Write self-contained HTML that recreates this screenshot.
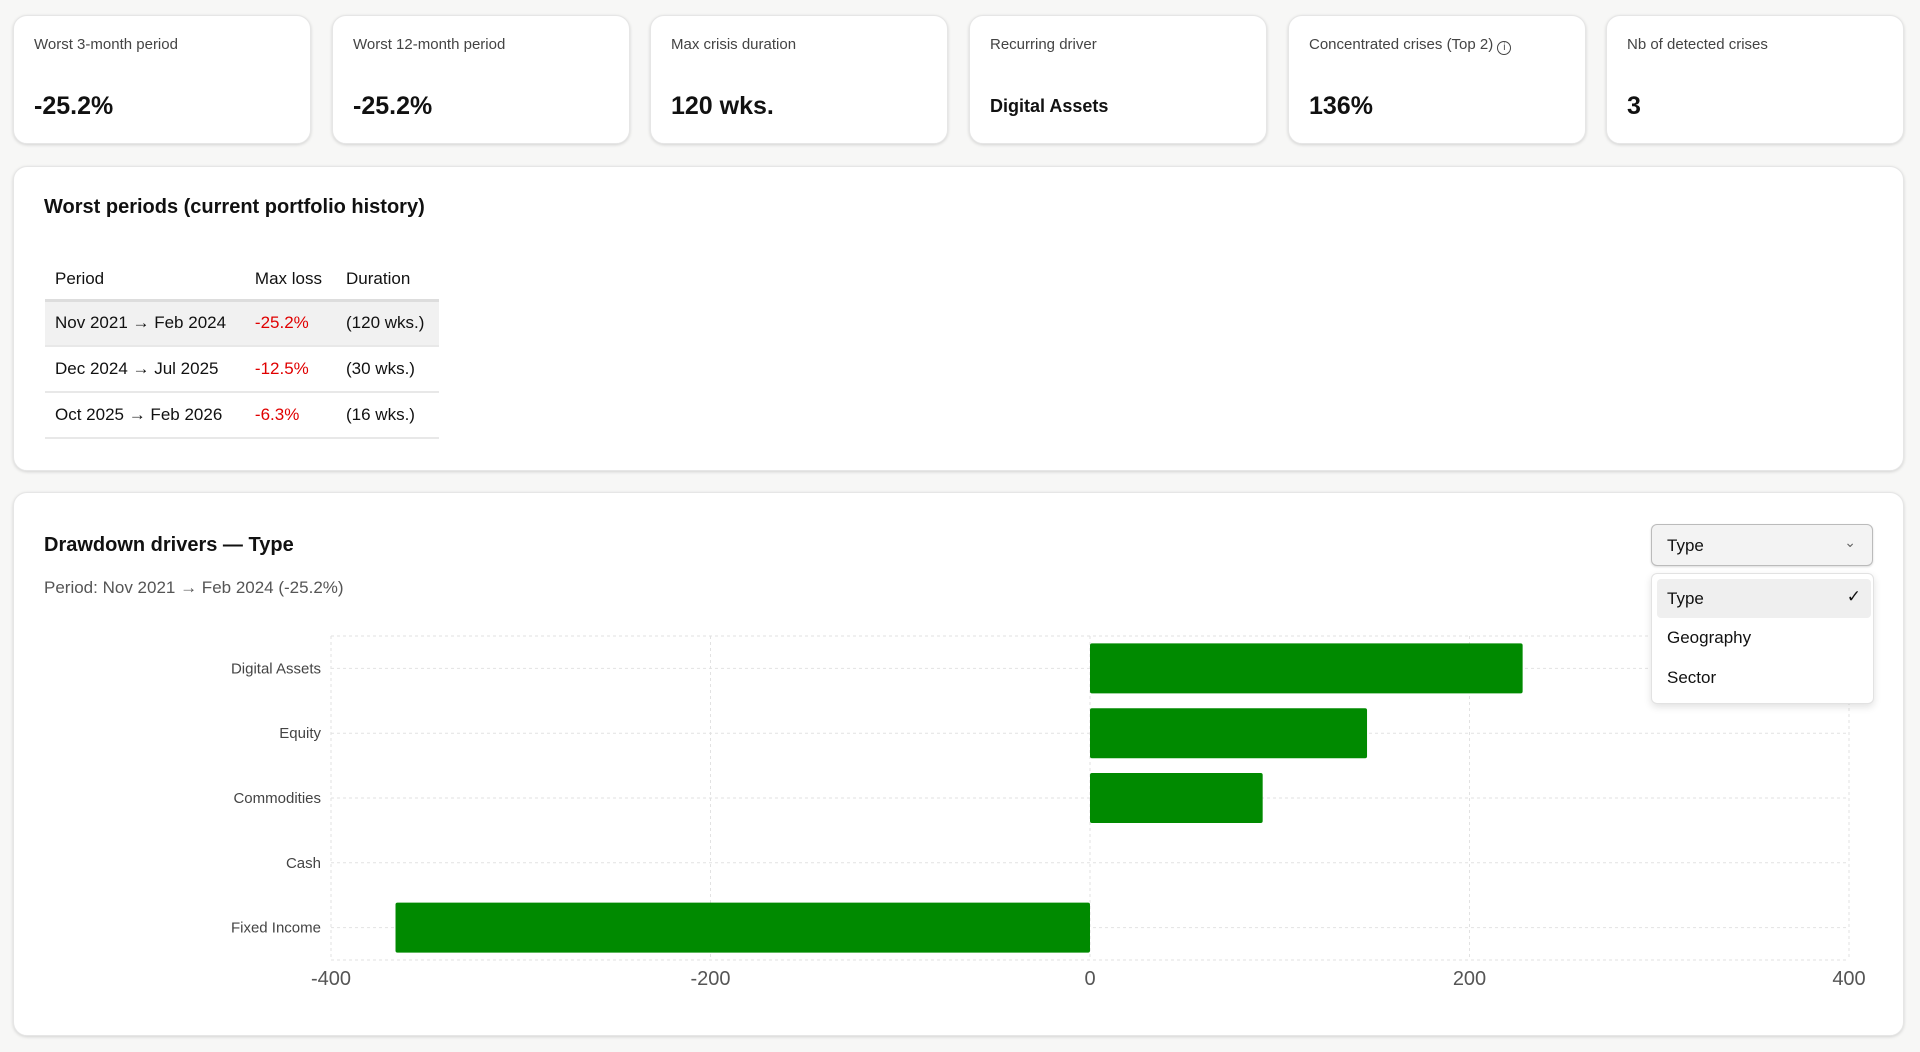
<!DOCTYPE html>
<html><head><meta charset="utf-8">
<style>
*{box-sizing:border-box;margin:0;padding:0}
body{width:1920px;height:1052px;background:#f7f7f6;font-family:"Liberation Sans",sans-serif;color:#111;position:relative;overflow:hidden}
.card{position:absolute;top:15px;height:129px;width:298px;background:#fff;border-radius:14px;box-shadow:0 1px 3px rgba(0,0,0,.15);border:1px solid #e6e6e6}
.card .lab{position:absolute;left:20px;top:20px;font-size:15px;color:#444}
.card .val{position:absolute;left:20px;top:76px;font-size:25px;font-weight:bold}
.panel{position:absolute;left:13px;width:1891px;background:#fff;border-radius:14px;box-shadow:0 1px 3px rgba(0,0,0,.15);border:1px solid #e6e6e6}
.title{position:absolute;left:30px;font-size:20px;font-weight:bold}
table{position:absolute;left:31px;top:93px;border-collapse:collapse;font-size:17px;width:394px}
th{font-weight:normal;text-align:left;height:40px;padding:0 10px;border-bottom:3px solid #ddd}
td{height:46px;padding:0 10px;border-bottom:2px solid #e8e8e8;white-space:nowrap}
td.r{color:#e00000}
tr.hl td{background:#f1f1f1}
</style></head><body>
<div class="card" style="left:13px"><div class="lab">Worst 3-month period</div><div class="val">-25.2%</div></div>
<div class="card" style="left:332px"><div class="lab">Worst 12-month period</div><div class="val">-25.2%</div></div>
<div class="card" style="left:650px"><div class="lab">Max crisis duration</div><div class="val">120 wks.</div></div>
<div class="card" style="left:969px"><div class="lab">Recurring driver</div><div class="val" style="font-size:18px;top:80px">Digital Assets</div></div>
<div class="card" style="left:1288px"><div class="lab">Concentrated crises (Top 2) <span style="display:inline-block;width:14px;height:14px;border:1.5px solid #444;border-radius:50%;font-size:10px;text-align:center;line-height:11px;vertical-align:-1px">i</span></div><div class="val">136%</div></div>
<div class="card" style="left:1606px"><div class="lab">Nb of detected crises</div><div class="val">3</div></div>

<div class="panel" style="top:166px;height:305px">
<div class="title" style="top:29px">Worst periods (current portfolio history)</div>
<table>
<tr><th>Period</th><th>Max loss</th><th>Duration</th></tr>
<tr class="hl"><td>Nov 2021 → Feb 2024</td><td class="r">-25.2%</td><td>(120 wks.)</td></tr>
<tr><td>Dec 2024 → Jul 2025</td><td class="r">-12.5%</td><td>(30 wks.)</td></tr>
<tr><td>Oct 2025 → Feb 2026</td><td class="r">-6.3%</td><td>(16 wks.)</td></tr>
</table>
</div>

<div class="panel" style="top:492px;height:544px">
<div class="title" style="top:41px">Drawdown drivers — Type</div>
<div style="position:absolute;left:30px;top:85px;font-size:17px;color:#555">Period: Nov 2021 → Feb 2024 (-25.2%)</div>
</div>

<svg id="chart" width="1920" height="1052" style="position:absolute;left:0;top:0"></svg>

<div style="position:absolute;left:1651px;top:524px;width:222px;height:42px;border:1.5px solid #bbb;border-radius:6px;background:#f3f3f3;box-shadow:0 1px 2px rgba(0,0,0,.15);font-size:17px;padding:11px 15px">Type<span style="position:absolute;right:16px;top:9px;color:#666;font-size:14px">⌄</span></div>
<div style="position:absolute;left:1651px;top:573px;width:223px;height:131px;background:#fff;border:1px solid #e2e2e2;border-radius:6px;box-shadow:0 3px 8px rgba(0,0,0,.12);font-size:17px">
<div style="position:absolute;left:5px;top:5px;width:214px;height:39px;background:#efefef;border-radius:4px;padding:10px 10px">Type<span style="position:absolute;right:10px;top:8px">✓</span></div>
<div style="position:absolute;left:15px;top:54px">Geography</div>
<div style="position:absolute;left:15px;top:94px">Sector</div>
</div>

<script>
const categories=["Digital Assets","Equity","Commodities","Cash","Fixed Income"];
const values=[228,146,91,0,-366];
const ticks=[-400,-200,0,200,400];
(function(){
const svg=document.getElementById('chart');
const NS='http://www.w3.org/2000/svg';
const x0=331,x1=1849,pTop=636,pBot=960;
const xs=v=>x0+(v+400)/800*(x1-x0);
const band=(pBot-pTop)/categories.length;
const yc=i=>pTop+band*(i+0.5);
function mk(t,a){const e=document.createElementNS(NS,t);for(const k in a)e.setAttribute(k,a[k]);svg.appendChild(e);return e;}
ticks.forEach(t=>{
  const l=mk('line',{x1:xs(t),x2:xs(t),y1:pTop,y2:pBot,stroke:'#e2e2e2','stroke-dasharray':'3,3'});
  
  
  const tx=mk('text',{x:xs(t),y:pBot+25,'text-anchor':'middle','font-size':20,fill:'#555','font-family':'Liberation Sans, sans-serif'});
  tx.textContent=t;
  
  
});
mk('line',{x1:x0,x2:x1,y1:pTop,y2:pTop,stroke:'#e2e2e2','stroke-dasharray':'3,3'});
mk('line',{x1:x0,x2:x1,y1:pBot,y2:pBot,stroke:'#e2e2e2','stroke-dasharray':'3,3'});
categories.forEach((c,i)=>{
  const g=mk('line',{x1:x0,x2:x1,y1:yc(i),y2:yc(i),stroke:'#e2e2e2','stroke-dasharray':'3,3'});
  
  
  const v=values[i];
  if(v!==0){
    const r=mk('rect',{x:Math.min(xs(0),xs(v)),y:yc(i)-25,width:Math.abs(xs(v)-xs(0)),height:50,fill:'#008a00',rx:2});
    
    
  }
  const t=mk('text',{x:321,y:yc(i)+5,'text-anchor':'end','font-size':15,fill:'#444','font-family':'Liberation Sans, sans-serif'});
  t.textContent=c;
  
  
});
})();
</script>
</body></html>
